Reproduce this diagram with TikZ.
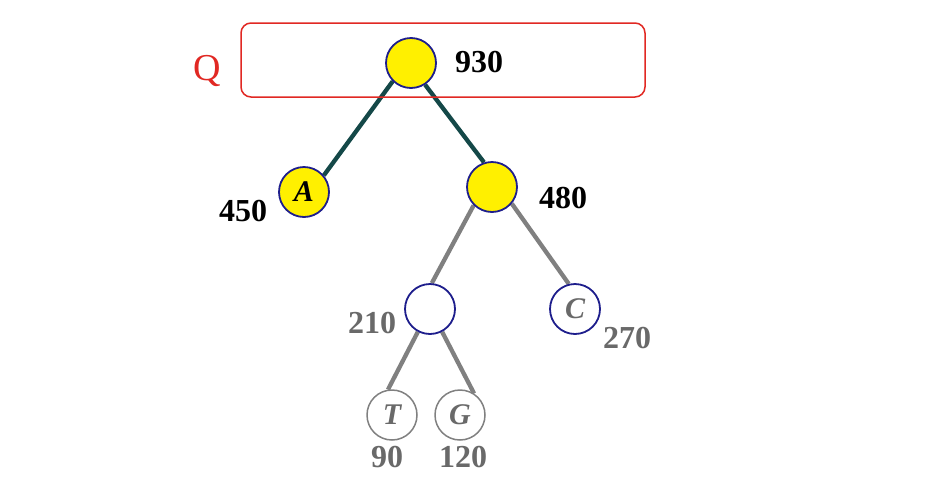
\documentclass[tikz,border=0pt]{standalone}
\usepackage{fontspec}
\setmainfont{Liberation Serif}
\usetikzlibrary{backgrounds}
\definecolor{navy}{RGB}{30,30,140}
\definecolor{yel}{RGB}{255,240,0}
\definecolor{teal2}{RGB}{20,72,72}
\definecolor{edgegray}{RGB}{128,128,128}
\definecolor{txtgray}{RGB}{105,105,105}
\definecolor{qred}{RGB}{225,40,35}
\begin{document}
\begin{tikzpicture}[x=1pt,y=-1pt,
  tn/.style={circle,minimum size=50pt,inner sep=0pt,line width=1.8pt},
  yn/.style={tn,draw=navy,fill=yel},
  bn/.style={tn,draw=navy,fill=white},
  gn/.style={tn,draw=edgegray,fill=white,line width=1.5pt},
  blab/.style={font=\fontsize{32}{34}\selectfont\bfseries,text=black},
  glab/.style={font=\fontsize{32}{34}\selectfont\bfseries,text=txtgray},
  letr/.style={font=\fontsize{30}{32}\selectfont\bfseries\itshape},
  dedge/.style={draw=teal2,line width=4.3pt},
  gedge/.style={draw=edgegray,line width=4.3pt}]
\useasboundingbox (0,0) rectangle (940,488);
\node[draw=qred,line width=1.5pt,rounded corners=10pt,minimum width=404pt,minimum height=74pt,inner sep=0pt] (box) at (443,60) {};
\node[text=qred,font=\fontsize{38}{40}\selectfont] (q) at (207,71) {Q};
\node[yn] (root) at (411,63) {};
\node[yn,letr] (a) at (304,192) {\textcolor{black}{A}};
\node[yn] (r) at (492,187) {};
\node[bn] (m) at (430,309) {};
\node[bn,letr,text=txtgray] (c) at (575,309) {C};
\node[gn,letr,text=txtgray] (t) at (392,415) {T};
\node[gn,letr,text=txtgray] (g) at (460,415) {G};
\begin{scope}[on background layer]
\fill[white] (0,0) rectangle (940,488);
\draw[dedge] (root.225) -- (a.40);
\draw[dedge] (root.303) -- (r.108);
\draw[gedge] (r.225) -- (m.86);
\draw[gedge] (r.320) -- (c.104);
\draw[gedge] (m.242) -- (t.99);
\draw[gedge] (m.298) -- (g.57);
\end{scope}
\node[blab] (l930) at (479,62) {930};
\node[blab] (l450) at (243,211) {450};
\node[blab] (l480) at (563,198) {480};
\node[glab] (l210) at (372,323) {210};
\node[glab] (l270) at (627,338) {270};
\node[glab] (l90) at (387,457) {90};
\node[glab] (l120) at (463,457) {120};
\end{tikzpicture}
\end{document}
